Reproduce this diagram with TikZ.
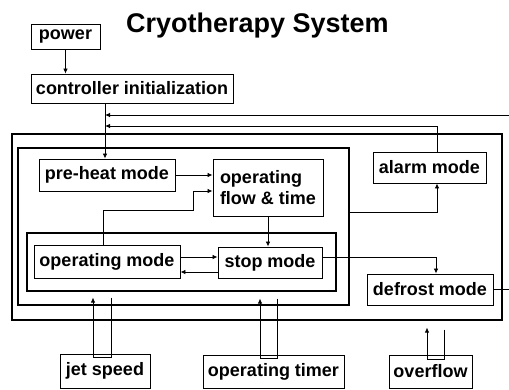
\documentclass[tikz,border=0pt]{standalone}
\usepackage{fontspec}
\setmainfont{Liberation Sans}
\usetikzlibrary{arrows.meta}
\tikzset{
  box/.style   = {draw, line width=0.9pt, inner sep=2pt, align=left,
                  font=\fontsize{18}{21}\selectfont\bfseries},
  frame/.style = {draw, line width=2.6pt, inner sep=0pt, outer sep=0pt},   % nested state frames
  arrow/.style = {-{Latex[length=5pt, width=4.5pt]}, line width=0.8pt},
  title/.style = {font=\fontsize{27}{30}\selectfont\bfseries},
}

\begin{document}
\begin{tikzpicture}[x=1pt, y=-1pt]
  \useasboundingbox (0,0) rectangle (509,389);
  \clip (0,0) rectangle (509,389);

  \node[title, anchor=base] at (257.5, 32) (title) {Cryotherapy System};

  \node[frame, minimum width=490pt, minimum height=186pt] at (257,   227)   (outer)  {};
  \node[frame, minimum width=331pt, minimum height=157pt] at (183.5, 226.5) (middle) {};
  \node[frame, minimum width=309pt, minimum height=58pt]  at (181.5, 262)   (inner)  {};

  \node[box, minimum width=69pt,  minimum height=25pt] at ( 65.5,  36.5) (power)    {power};
  \node[box, minimum width=202pt, minimum height=29pt] at (132,    88.5) (ctrl)     {controller initialization};
  \node[box, minimum width=136pt, minimum height=32pt] at (107,   175)   (preheat)  {pre-heat mode};
  \node[box, minimum width=110pt, minimum height=57pt] at (268,   187.5) (flow)     {operating\\flow \& time};
  \node[box, minimum width=113pt, minimum height=31pt] at (429.5, 167.5) (alarm)    {alarm mode};
  \node[box, minimum width=146pt, minimum height=33pt] at (107,   261.5) (opmode)   {operating mode};
  \node[box, minimum width=104pt, minimum height=31pt] at (270,   262.5) (stop)     {stop mode};
  \node[box, minimum width=126pt, minimum height=31pt] at (430,   289.5) (defrost)  {defrost mode};
  \node[box, minimum width=90pt,  minimum height=34pt] at (105,   371)   (jet)      {jet speed};
  \node[box, minimum width=141pt, minimum height=33pt] at (273.5, 371.5) (timer)    {operating timer};
  \node[box, minimum width=83pt,  minimum height=33pt] at (430.5, 371.5) (overflow) {overflow};

  \coordinate (ret1) at (105, 115);
  \coordinate (ret2) at (105, 126);

  \draw[arrow] (power) -- (power |- ctrl.north);
  \draw[arrow] (ctrl.south -| ret1) -- (preheat.north -| ret1);
  \draw[arrow] (defrost.east) -- ++(30,0) |- (ret1);
  \draw[arrow] ([xshift=7.5]alarm.north) |- (ret2);
  \draw[arrow] ([yshift=14.5]middle.east) -| ([xshift=7.5]alarm.south);
  \draw[arrow] (preheat.east) -- (preheat.east -| flow.west);
  \draw[arrow] ([xshift=-4]opmode.north) -- ++(0,-34) -- ++(90,0) |- ([yshift=-3.5]flow.west);
  \draw[arrow] (flow.south) -- (flow.south |- stop.north);
  \draw[arrow] ([yshift=4.5]opmode.east) -- ([yshift=4.5]opmode.east -| stop.west);
  \draw[arrow] ([yshift=-9.5]stop.west) -- ([yshift=-9.5]stop.west -| opmode.east);
  \draw[arrow] ([yshift=5.5]stop.east) -| ([xshift=6]defrost.north);

  % input loops
  \draw[arrow] ([xshift=6, yshift=-4]jet.north) ++(0,-60) -- ++(0,60) -- ++(-18,0) -- ++(0,-60);
  \draw[arrow] ([xshift=3.5, yshift=-4]timer.north) ++(0,-60) -- ++(0,60) -- ++(-17,0) -- ++(0,-60);
  \draw[arrow] ([xshift=13.5, yshift=-5]overflow.north) ++(0,-30) -- ++(0,30) -- ++(-17,0) -- ++(0,-32);
\end{tikzpicture}
\end{document}
